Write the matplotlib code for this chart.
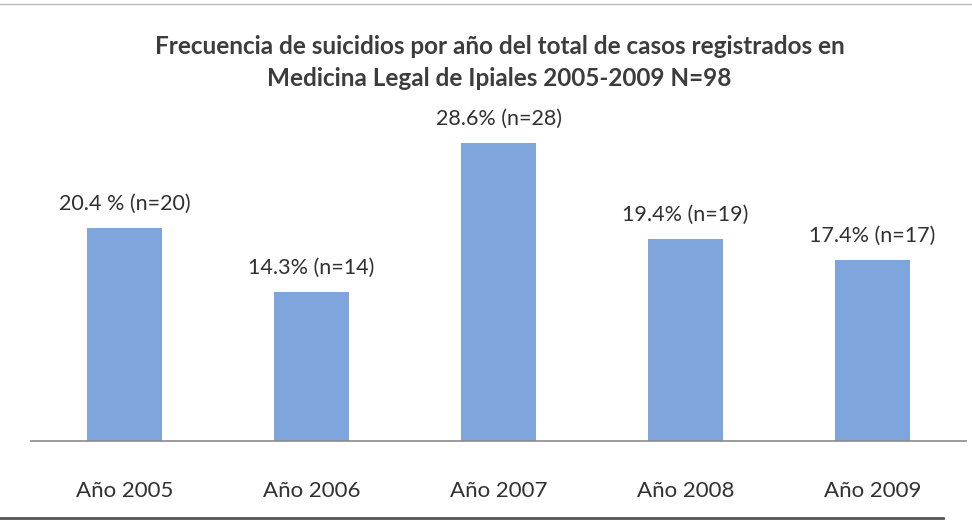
import matplotlib.pyplot as plt
import matplotlib.lines as mlines

# Datos
anios = ['Año 2005', 'Año 2006', 'Año 2007', 'Año 2008', 'Año 2009']
casos = [20, 14, 28, 19, 17]
etiquetas = ['20.4 % (n=20)', '14.3% (n=14)', '28.6% (n=28)', '19.4% (n=19)', '17.4% (n=17)']

plt.rcParams['font.family'] = ['Lato', 'DejaVu Sans']

fig = plt.figure(figsize=(9.72, 5.25), dpi=100)
ax = fig.add_axes([31 / 972, 1 - 441 / 525, 935 / 972, 341 / 525])

x = range(len(anios))
ax.bar(x, casos, width=0.4, color='#7ea6dd')

for xi, val, lab in zip(x, casos, etiquetas):
    ax.annotate(lab, (xi, val), xytext=(0, 10), textcoords='offset points',
                ha='center', va='bottom', fontsize=15.5, color='#303030')

ax.set_xlim(-0.5, 4.5)
ax.set_ylim(0, 32)
ax.set_yticks([])
ax.set_xticks(list(x))
ax.set_xticklabels(anios, fontsize=16, color='#303030')
ax.tick_params(axis='x', length=0, pad=29)
for s in ['top', 'right', 'left']:
    ax.spines[s].set_visible(False)
ax.spines['bottom'].set_color('#8a8a8a')
ax.spines['bottom'].set_linewidth(1.2)

fig.text(0.514, 1 - 46 / 525,
         'Frecuencia de suicidios por año del total de casos registrados en',
         ha='center', va='center', fontsize=17.5, fontweight='bold', color='#3c3c3c')
fig.text(0.514, 1 - 79 / 525,
         'Medicina Legal de Ipiales 2005-2009 N=98',
         ha='center', va='center', fontsize=17.5, fontweight='bold', color='#3c3c3c')

# bordes del escaneo
fig.add_artist(mlines.Line2D([0, 1], [1 - 4 / 525, 1 - 4 / 525], color='#bbbbbb', lw=1))
fig.add_artist(mlines.Line2D([0, 0.97], [1 - 518 / 525, 1 - 518 / 525], color='#555555', lw=2))

fig.savefig('out.png', dpi=100)
